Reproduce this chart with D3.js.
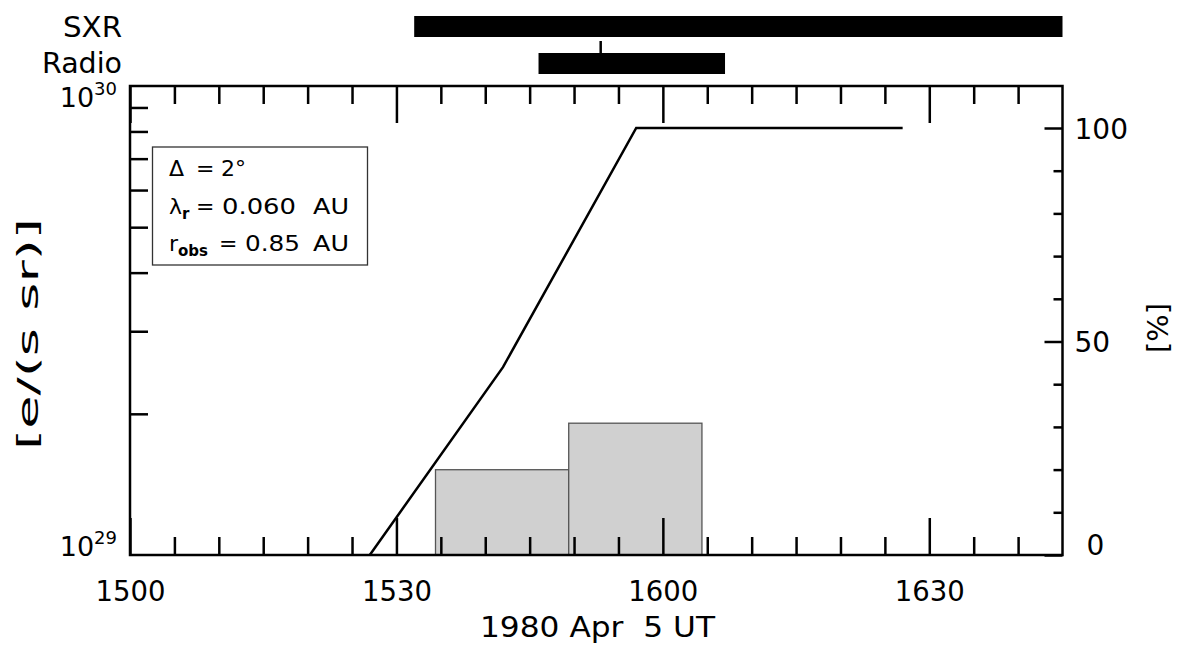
<!DOCTYPE html>
<html><head><meta charset="utf-8">
<script src="https://cdn.jsdelivr.net/npm/d3@7"></script>
<style>
body{margin:0;background:#fff}
svg{display:block}
text{font-family:"DejaVu Sans",sans-serif;fill:#000}
</style>
</head><body>
<svg id="c" width="1179" height="654"></svg>
<script>
// ---- data (time = minutes after 15:00 UT, 1980 Apr 5) ----
const xMajorTicks = [0, 30, 60, 90];
const xTickLabels = ["1500", "1530", "1600", "1630"];
const xMinorTicks = [5, 10, 15, 20, 25, 35, 40, 45, 50, 55, 65, 70, 75, 80, 85, 95, 100];
const xDomain = [0, 105];

const yLogDomain = [1e29, 1e30];
const yLogMinor = [2e29, 3e29, 4e29, 5e29, 6e29, 7e29, 8e29, 9e29];
const yLogLabels = [{v: 1e29, base: "10", exp: "29"}, {v: 1e30, base: "10", exp: "30"}];

const pctMajor = [0, 50, 100];
const pctMinor = [10, 20, 30, 40, 60, 70, 80, 90];

// cumulative injection curve [%]
const cumTime = [27, 42, 57, 87];
const cumPercent = [0, 44, 100, 100];

// histogram of injected electrons [e/(s sr)]
const binEdges = [34.4, 49.4, 64.4];
const binValues = [1.52e29, 1.91e29];

// SXR / Radio intervals
const sxrInterval = [32, 105];
const radioInterval = [46, 67];
const radioMark = 53;

// legend rows: symbol, subscript, value, unit
const legendSymbols = ["Δ", "λ", "r"];
const legendSubs = ["", "r", "obs"];
const legendValues = ["2°", "0.060", "0.85"];
const legendUnits = ["", "AU", "AU"];

// ---- layout ----
const L = 130, R = 1062.5, T = 86, B = 555;
const svg = d3.select("#c");
const x = d3.scaleLinear().domain(xDomain).range([L, R]);
const yLog = d3.scaleLog().domain(yLogDomain).range([B, T]);
const yPct = d3.scaleLinear().domain([0, 100]).range([B, 128]);

const AX = 2.5;

// bars
svg.append("g").selectAll("rect").data(binValues).join("rect")
  .attr("x", (d, i) => x(binEdges[i]))
  .attr("width", (d, i) => x(binEdges[i + 1]) - x(binEdges[i]))
  .attr("y", d => yLog(d))
  .attr("height", d => B - yLog(d))
  .attr("fill", "#d0d0d0").attr("stroke", "#555").attr("stroke-width", 1.3);

// cumulative line
const pts = cumTime.map((t, i) => [t, cumPercent[i]]);
svg.append("path").datum(pts)
  .attr("d", d3.line().x(d => x(d[0])).y(d => yPct(d[1])))
  .attr("fill", "none").attr("stroke", "#000").attr("stroke-width", 2.5);

function styleAxis(g) {
  g.select(".domain").remove();
  g.selectAll(".tick line").attr("stroke", "#000").attr("stroke-width", AX);
}

// bottom axis
svg.append("g").attr("transform", `translate(0,${B})`)
  .call(d3.axisBottom(x).tickValues(xMinorTicks).tickSize(-18).tickFormat(""))
  .call(styleAxis);
const bx = svg.append("g").attr("transform", `translate(0,${B})`)
  .call(d3.axisBottom(x).tickValues(xMajorTicks).tickSize(-37).tickFormat((d, i) => xTickLabels[i]))
  .call(styleAxis);
bx.selectAll("text").attr("y", 46).attr("dy", 0)
  .style("font-size", "28px").style("font-family", "DejaVu Sans").attr("fill", "#000")
  .attr("textLength", 70).attr("lengthAdjust", "spacingAndGlyphs");

// top axis
svg.append("g").attr("transform", `translate(0,${T})`)
  .call(d3.axisTop(x).tickValues(xMinorTicks).tickSize(-18).tickFormat(""))
  .call(styleAxis);
svg.append("g").attr("transform", `translate(0,${T})`)
  .call(d3.axisTop(x).tickValues(xMajorTicks).tickSize(-37).tickFormat(""))
  .call(styleAxis);

// left axis (log)
svg.append("g").attr("transform", `translate(${L},0)`)
  .call(d3.axisLeft(yLog).tickValues(yLogMinor).tickSize(-18).tickFormat(""))
  .call(styleAxis);

// right axis (percent)
svg.append("g").attr("transform", `translate(${R},0)`)
  .call(d3.axisRight(yPct).tickValues(pctMinor).tickSize(-9).tickFormat(""))
  .call(styleAxis);
const ry = svg.append("g").attr("transform", `translate(${R},0)`)
  .call(d3.axisRight(yPct).tickValues(pctMajor).tickSize(-18).tickFormat(d3.format("d")))
  .call(styleAxis);
ry.selectAll("text").attr("x", d => d === 0 ? 24 : 12).attr("dy", d => d === 0 ? "-0.02em" : "0.36em")
  .style("font-size", "28px").style("font-family", "DejaVu Sans").attr("fill", "#000");

// frame
svg.append("rect").attr("x", L).attr("y", T).attr("width", R - L).attr("height", B - T)
  .attr("fill", "none").attr("stroke", "#000").attr("stroke-width", AX);

// left labels 10^29 / 10^30
yLogLabels.forEach((d, i) => {
  const base = i === 0 ? yLog(d.v) + 1 : yLog(d.v) + 21;
  const t = svg.append("text").attr("x", 117).attr("y", base).attr("text-anchor", "end")
    .style("font-size", "27px");
  t.append("tspan").text(d.base);
  t.append("tspan").attr("dy", -12).style("font-size", "18px").text(d.exp);
});

// axis titles
svg.append("text").attr("transform", "translate(38,334) rotate(-90)")
  .attr("text-anchor", "middle").style("font-size", "29px")
  .attr("textLength", 232).attr("lengthAdjust", "spacingAndGlyphs").text("[e/(s sr)]");
svg.append("text").attr("transform", "translate(1168,328) rotate(-90)")
  .attr("text-anchor", "middle").style("font-size", "29px")
  .attr("textLength", 50).attr("lengthAdjust", "spacingAndGlyphs").text("[%]");
svg.append("text").attr("x", 480).attr("y", 637).attr("xml:space", "preserve")
  .style("white-space", "pre").style("font-size", "28px").attr("textLength", 235)
  .attr("lengthAdjust", "spacingAndGlyphs").text("1980 Apr  5 UT");

// SXR / Radio bars
svg.append("rect").attr("x", x(sxrInterval[0])).attr("y", 16)
  .attr("width", x(sxrInterval[1]) - x(sxrInterval[0])).attr("height", 21).attr("fill", "#000");
svg.append("rect").attr("x", x(radioInterval[0])).attr("y", 53)
  .attr("width", x(radioInterval[1]) - x(radioInterval[0])).attr("height", 21).attr("fill", "#000");
svg.append("line").attr("x1", x(radioMark)).attr("x2", x(radioMark)).attr("y1", 41).attr("y2", 54)
  .attr("stroke", "#000").attr("stroke-width", 2.5);
svg.append("text").attr("x", 122).attr("y", 37).attr("text-anchor", "end").style("font-size", "28px")
  .attr("textLength", 59).attr("lengthAdjust", "spacingAndGlyphs").text("SXR");
svg.append("text").attr("x", 122).attr("y", 73).attr("text-anchor", "end").style("font-size", "28px")
  .attr("textLength", 80).attr("lengthAdjust", "spacingAndGlyphs").text("Radio");

// legend box
svg.append("rect").attr("x", 152.5).attr("y", 147).attr("width", 215).attr("height", 118)
  .attr("fill", "#fff").attr("stroke", "#333").attr("stroke-width", 1.3);
const lg = svg.append("g").style("font-size", "22px");
const rowY = [176, 214, 251];
const eqX = [196, 196, 219];
const valX = [221, 222, 245];
const valW = [0, 74, 55];
legendSymbols.forEach((s, i) => {
  const t = lg.append("text").attr("x", 169).attr("y", rowY[i]);
  t.append("tspan").text(s);
  if (legendSubs[i]) t.append("tspan").attr("dy", 5).style("font-size", "15px").style("font-weight", "bold").text(legendSubs[i]);
  lg.append("text").attr("x", eqX[i]).attr("y", rowY[i]).text("=");
  const v = lg.append("text").attr("x", valX[i]).attr("y", rowY[i]).text(legendValues[i]);
  if (valW[i]) v.attr("textLength", valW[i]).attr("lengthAdjust", "spacingAndGlyphs");
  if (legendUnits[i]) lg.append("text").attr("x", 313).attr("y", rowY[i])
    .attr("textLength", 36).attr("lengthAdjust", "spacingAndGlyphs").text(legendUnits[i]);
});
</script>
</body></html>
